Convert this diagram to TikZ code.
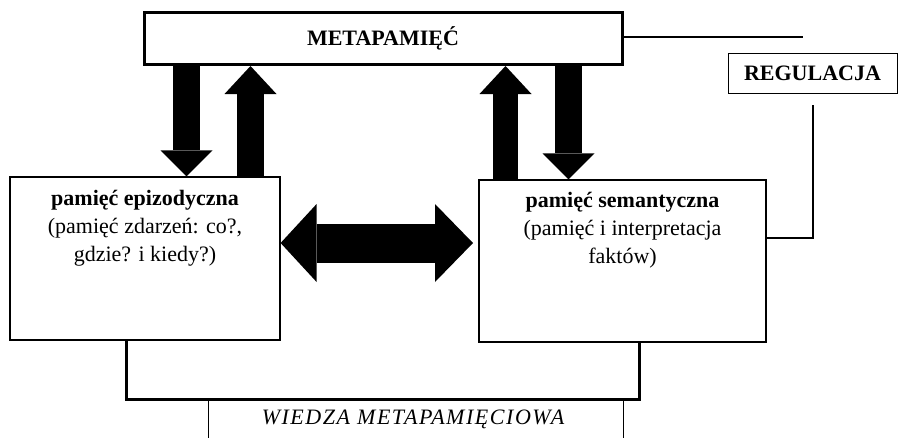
\documentclass[tikz,border=0pt]{standalone}
\usepackage{fontspec}
\setmainfont{Liberation Serif}
\usetikzlibrary{arrows.meta}
\begin{document}
\begin{tikzpicture}[x=1pt,y=-1pt,
  box/.style={draw,inner sep=0pt,fill=white},
  txt/.style={inner sep=0pt,align=center,font=\fontsize{22}{28}\selectfont},
  hd/.style={inner sep=0pt,font=\fontsize{22}{26}\selectfont\bfseries},
  conn/.style={line width=2.6pt},
]
\useasboundingbox (0,0) rectangle (898,437);
\begin{scope}
\clip (0,0) rectangle (898,437);
% boxes
\node[box,line width=3pt,minimum width=478pt,minimum height=52pt] (meta) at (383,38.5) {};
\node[hd] (metat) at (meta.center) {METAPAMIĘĆ};
\node[box,line width=1pt,minimum width=169pt,minimum height=40pt] (reg) at (812.5,73) {};
\node[hd] (regt) at (reg.center) {REGULACJA};
\node[box,line width=1.2pt,minimum width=270pt,minimum height=163pt] (epi) at (145,258.5) {};
\node[txt,anchor=north] (epit) at ([yshift=-14pt]epi.north) {\textbf{pamięć epizodyczna}\\(pamięć zdarzeń: co?,\\gdzie? i kiedy?)};
\node[box,line width=1.2pt,minimum width=287pt,minimum height=162pt] (sem) at (622.5,261) {};
\node[txt,anchor=north] (semt) at ([yshift=-13pt]sem.north) {\textbf{pamięć semantyczna}\\(pamięć i interpretacja\\faktów)};
\node[box,line width=1pt,minimum width=415pt,minimum height=80pt] (wiedza) at (415.5,439) {};
\node[inner sep=0pt,font=\fontsize{22}{26}\selectfont\itshape\addfontfeatures{LetterSpace=7}] (wiedzat) at (413,419) {WIEDZA METAPAMIĘCIOWA};
% connectors
\coordinate (c1) at (803,37);
\draw[conn] (meta.east |- c1) -- (c1);
\coordinate (c2) at (813,105);
\draw[conn] (c2) -- (c2 |- 0,238) -- (sem.east |- 0,238);
\draw[conn,line width=3pt] (epi.south -| 126,0) -- (126,399) -- (639,399) -- (sem.south -| 639,0);
% block arrows
\draw[line width=27pt,-{Triangle[width=52pt,length=26pt,line width=0pt]}] (meta.south -| 186.5,0) -- (epi.north -| 186.5,0);
\draw[line width=27pt,-{Triangle[width=52pt,length=28pt,line width=0pt]}] (epi.north -| 250.5,0) -- (meta.south -| 250.5,0);
\draw[line width=25pt,-{Triangle[width=52pt,length=28pt,line width=0pt]}] (sem.north -| 505.5,0) -- (meta.south -| 505.5,0);
\draw[line width=27pt,-{Triangle[width=52pt,length=26pt,line width=0pt]}] (meta.south -| 568.5,0) -- (sem.north -| 568.5,0);
\coordinate (dr) at (473,243);
\draw[line width=39pt,{Triangle[width=78pt,length=36pt,line width=0pt]}-{Triangle[width=78pt,length=38pt,line width=0pt]}] (epi.east |- dr) -- (dr);
\end{scope}
\end{tikzpicture}
\end{document}
